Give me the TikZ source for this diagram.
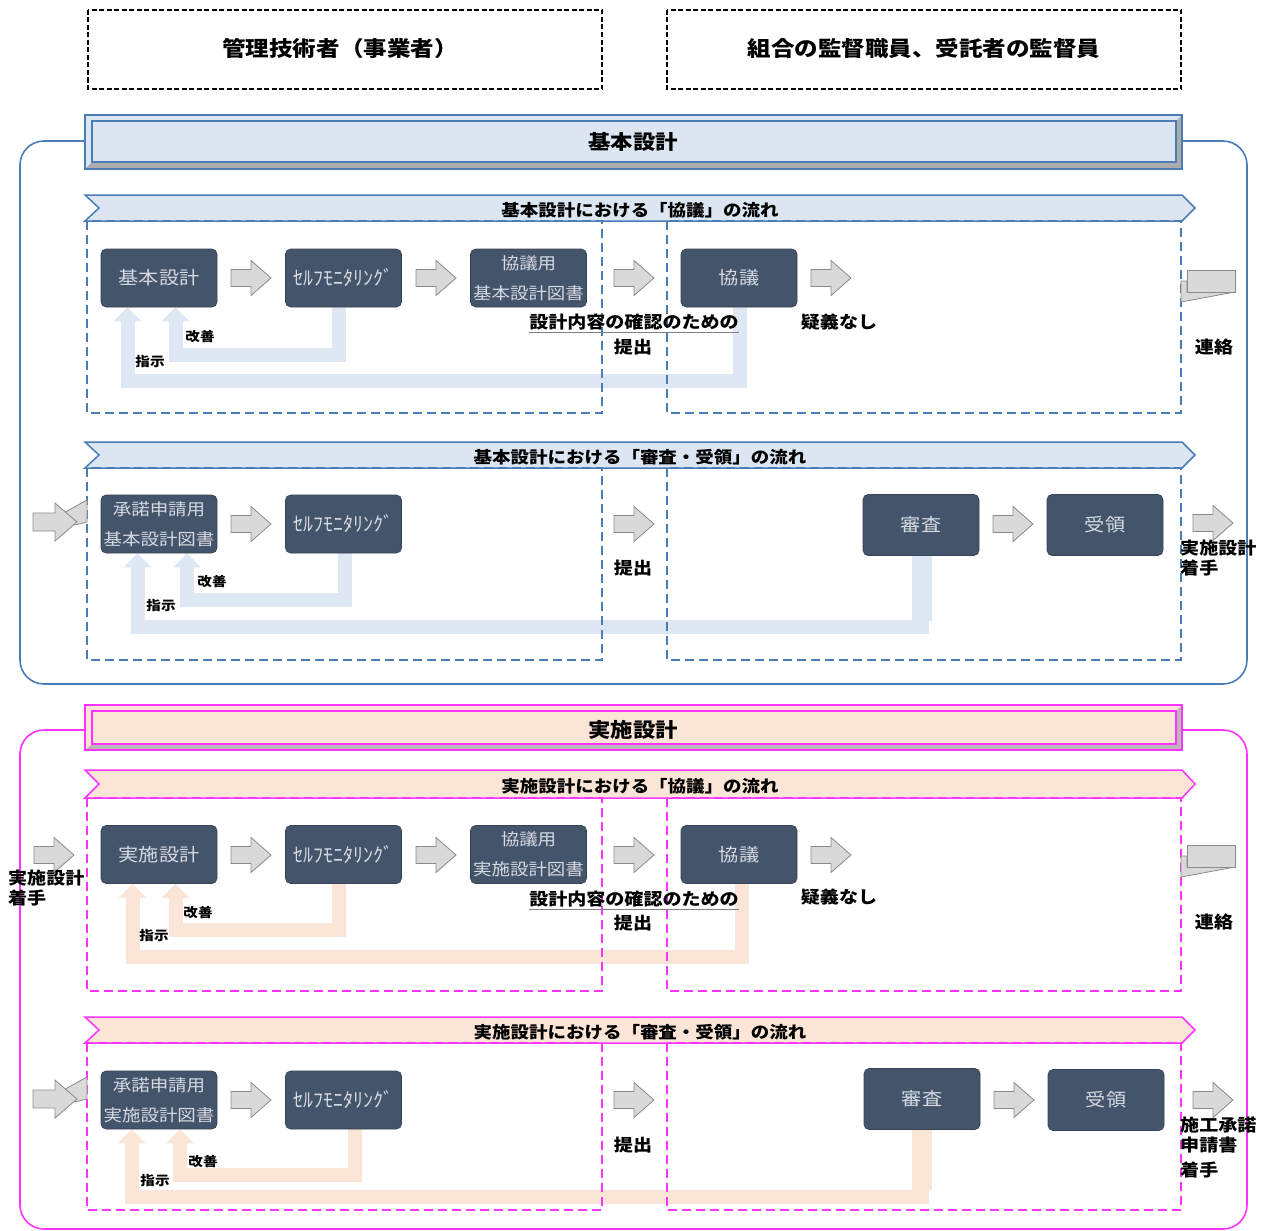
\documentclass[tikz,border=0pt]{standalone}
\usepackage{fontspec}
\setmainfont{Noto Sans CJK JP}
\newfontfamily\jpw[FakeStretch=1.12]{Noto Sans CJK JP}
\newfontfamily\jpn{Noto Sans CJK JP}
\usetikzlibrary{arrows.meta}
\pgfdeclarelayer{bg}
\pgfsetlayers{bg,main}
\definecolor{bl}{HTML}{4A7DB5}
\definecolor{blfill}{HTML}{DCE6F2}
\definecolor{blfb}{HTML}{DDE8F4}
\definecolor{mg}{HTML}{FF33FF}
\definecolor{pk}{HTML}{FBE5D6}
\definecolor{nd}{HTML}{44546A}
\definecolor{ndtxt}{HTML}{D5DAE2}
\definecolor{ar}{HTML}{D9D9D9}
\definecolor{arb}{HTML}{8A8A8A}
\begin{document}
\begin{tikzpicture}[x=1pt,y=-1pt,
  proc/.style={rounded corners=5pt, fill=nd, draw=nd!80!black, line width=0.6pt,
    minimum width=116pt, minimum height=58pt, inner sep=0pt, text=ndtxt,
    font=\jpw\fontsize{18}{30}\selectfont, align=center},
  twol/.style={font=\jpw\fontsize{16.5}{30}\selectfont},
  kana/.style={font=\jpn\fontsize{20}{30}\selectfont},
  lbl/.style={inner sep=0pt, font=\jpw\bfseries\fontsize{17}{20}\selectfont},
  slbl/.style={inner sep=0pt, font=\jpw\bfseries\fontsize{13}{15}\selectfont},
  bnr/.style={inner sep=0pt, font=\jpw\bfseries\fontsize{16.5}{20}\selectfont},
  hdr/.style={inner sep=0pt, font=\jpw\bfseries\fontsize{20}{24}\selectfont},
  thdr/.style={inner sep=0pt, font=\jpw\bfseries\fontsize{21}{24}\selectfont},
  topbox/.style={draw=black, line width=2.2pt, dash pattern=on 5pt off 2.5pt},
  dbl/.style={draw=bl, line width=1.6pt, dash pattern=on 9pt off 5pt},
  dmg/.style={draw=mg, line width=1.6pt, dash pattern=on 9pt off 5pt},
  fbB/.style={draw=blfb, line width=14pt, -{Triangle[width=27pt,length=14pt]}},
  fbP/.style={draw=pk, line width=14pt, -{Triangle[width=27pt,length=14pt]}},
  pics/blk/.style={code={\draw[draw=arb, fill=ar, line width=0.8pt]
    (-20,-8.5)--(0,-8.5)--(0,-17.5)--(20,0)--(0,17.5)--(0,8.5)--(-20,8.5)--cycle;}},
  pics/entry/.style={code={
    \draw[draw=arb, fill=ar, line width=0.8pt] (5,-7)--(32,-22)--(32,0)--(20,3)--cycle;
    \draw[draw=arb, fill=ar, line width=0.8pt]
    (-22,-9)--(0,-9)--(0,-19)--(22,0)--(0,19)--(0,9)--(-22,9)--cycle;}}
]
\useasboundingbox (0,0) rectangle (1266,1231);

% ---------- top boxes
\draw[topbox] (88,10) rectangle (602,89);
\draw[topbox] (667,10) rectangle (1181,89);
\node[thdr] (tl) at (340,48) {管理技術者（事業者）};
\node[thdr] (tr) at (924,48) {組合の監督職員、受託者の監督員};

% ================= SECTION 1 (blue)
\draw[bl, line width=1.6pt, rounded corners=24pt] (20,141) rectangle (1247,684);
\fill[blfill] (85,115) rectangle (1182,169);
\fill[gray!65] (85,169)--(1182,169)--(1182,115)--(1176,121)--(1176,162)--(92,162)--cycle;
\draw[bl, line width=1.6pt] (85,115) rectangle (1182,169);
\draw[bl, line width=1.2pt] (92,121) rectangle (1176,162);
\node[hdr] (h1) at (633,142) {基本設計};

% banner 1
\draw[bl, fill=blfill, line width=1.5pt] (85,195)--(1182,195)--(1195,208)--(1182,221)--(85,221)--(99,208)--cycle;
\node[bnr] (b1) at (640,210) {基本設計における「協議」の流れ};
\draw[dbl] (87,221) rectangle (602,413);
\draw[dbl] (667,221) rectangle (1181,413);

\node[proc] (p11) at (159,278) {基本設計};
\node[proc, kana] (p12) at (343.5,278) {ｾﾙﾌﾓﾆﾀﾘﾝｸﾞ};
\node[proc, twol] (p13) at (528.5,278) {協議用\\基本設計図書};
\node[proc] (p14) at (739,278) {協議};
\pic at (251,278) {blk};
\pic at (436,278) {blk};
\pic at (634,278) {blk};
\pic at (831,278) {blk};
\node[lbl] (l11) at (634,322) {設計内容の確認のための};
\draw[gray, line width=0.8pt] ([yshift=-2pt]l11.south west) -- ([yshift=-2pt]l11.south east);
\node[lbl] (l12) at (633,347) {提出};
\node[lbl] (l13) at (839,322) {疑義なし};
\node[lbl] (l14) at (1214,347) {連絡};
\draw[draw=arb, fill=ar, line width=0.8pt] (1181,281)--(1187,281)--(1187,292)--(1235,292)--(1181,302)--cycle;
\draw[draw=arb, fill=ar, line width=0.8pt] (1187,270) rectangle (1235,292);
\node[slbl] (l15) at (200,337) {改善};
\node[slbl] (l16) at (150,362) {指示};
\begin{pgfonlayer}{bg}
\draw[fbB] ([xshift=-5pt]p12.south) -- ++(0,47.5) -| ([xshift=16.5pt]p11.south);
\draw[fbB] ([xshift=0.5pt]p14.south) -- ++(0,73.5) -| ([xshift=-31.5pt]p11.south);
\end{pgfonlayer}

% banner 2
\draw[bl, fill=blfill, line width=1.5pt] (85,442)--(1182,442)--(1195,455)--(1182,468)--(85,468)--(99,455)--cycle;
\node[bnr] (b2) at (640,457) {基本設計における「審査・受領」の流れ};
\draw[dbl] (87,468) rectangle (602,660);
\draw[dbl] (667,468) rectangle (1181,660);

\node[proc, twol] (p21) at (159,524) {承諾申請用\\基本設計図書};
\node[proc, kana] (p22) at (343.5,524) {ｾﾙﾌﾓﾆﾀﾘﾝｸﾞ};
\node[proc, minimum height=61pt] (p23) at (921,525) {審査};
\node[proc, minimum height=61pt] (p24) at (1105,525) {受領};
\pic at (55,522) {entry};
\pic at (251,524) {blk};
\pic at (634,524) {blk};
\pic at (1013,524) {blk};
\pic at (1213,523) {blk};
\node[lbl] (l21) at (633,568) {提出};
\node[lbl, anchor=west] (l22) at (1180,548) {実施設計};
\node[lbl, anchor=west] (l23) at (1180,568) {着手};
\node[slbl] (l24) at (212,582) {改善};
\node[slbl] (l25) at (161,606) {指示};
\begin{pgfonlayer}{bg}
\draw[fbB] ([xshift=1.5pt]p22.south) -- ++(0,46.5) -| ([xshift=28pt]p21.south);
\draw[line width=20pt, blfb] ([xshift=1pt]p23.south) -- ++(0,65);
\draw[fbB] ([xshift=1pt]p23.south) -- ++(0,71.5) -| ([xshift=-21.5pt]p21.south);
\end{pgfonlayer}

% ================= SECTION 2 (magenta)
\draw[mg, line width=1.6pt, rounded corners=24pt] (20,730) rectangle (1247,1229);
\fill[pk] (85,705) rectangle (1182,750);
\fill[gray!55] (85,750)--(1182,750)--(1182,705)--(1176,711)--(1176,744)--(92,744)--cycle;
\draw[mg, line width=1.6pt] (85,705) rectangle (1182,750);
\draw[mg, line width=1.2pt] (92,711) rectangle (1176,744);
\node[hdr] (h2) at (633,730) {実施設計};

% banner 3
\draw[mg, fill=pk, line width=1.5pt] (85,770)--(1182,770)--(1195,784)--(1182,798)--(85,798)--(99,784)--cycle;
\node[bnr] (b3) at (640,786) {実施設計における「協議」の流れ};
\draw[dmg] (87,798) rectangle (602,991);
\draw[dmg] (667,798) rectangle (1181,991);

\node[proc] (q11) at (159,854.5) {実施設計};
\node[proc, kana] (q12) at (343.5,854.5) {ｾﾙﾌﾓﾆﾀﾘﾝｸﾞ};
\node[proc, twol] (q13) at (528.5,854.5) {協議用\\実施設計図書};
\node[proc] (q14) at (739,854.5) {協議};
\pic at (54,855) {blk};
\pic at (251,855) {blk};
\pic at (436,855) {blk};
\pic at (634,855) {blk};
\pic at (831,855) {blk};
\node[lbl, anchor=west] (m10) at (8,878) {実施設計};
\node[lbl, anchor=west] (m11) at (8,898) {着手};
\node[lbl] (m12) at (634,899) {設計内容の確認のための};
\draw[gray, line width=0.8pt] ([yshift=-2pt]m12.south west) -- ([yshift=-2pt]m12.south east);
\node[lbl] (m13) at (633,923) {提出};
\node[lbl] (m14) at (839,897) {疑義なし};
\node[lbl] (m15) at (1214,922) {連絡};
\draw[draw=arb, fill=ar, line width=0.8pt] (1181,856)--(1187,856)--(1187,867)--(1235,867)--(1181,877)--cycle;
\draw[draw=arb, fill=ar, line width=0.8pt] (1187,845) rectangle (1235,867);
\node[slbl] (m16) at (198,913) {改善};
\node[slbl] (m17) at (154,936) {指示};
\begin{pgfonlayer}{bg}
\draw[fbP] ([xshift=-5pt]q12.south) -- ++(0,46.5) -| ([xshift=16.5pt]q11.south);
\draw[fbP] ([xshift=3pt]q14.south) -- ++(0,73) -| ([xshift=-26.5pt]q11.south);
\end{pgfonlayer}

% banner 4
\draw[mg, fill=pk, line width=1.5pt] (85,1017)--(1182,1017)--(1195,1030)--(1182,1043)--(85,1043)--(99,1030)--cycle;
\node[bnr] (b4) at (640,1032) {実施設計における「審査・受領」の流れ};
\draw[dmg] (87,1043) rectangle (602,1210);
\draw[dmg] (667,1043) rectangle (1181,1210);

\node[proc, twol] (q21) at (159,1100) {承諾申請用\\実施設計図書};
\node[proc, kana] (q22) at (343.5,1100) {ｾﾙﾌﾓﾆﾀﾘﾝｸﾞ};
\node[proc, minimum height=61pt] (q23) at (922,1099) {審査};
\node[proc, minimum height=61pt] (q24) at (1106,1100) {受領};
\pic at (55,1099) {entry};
\pic at (251,1100) {blk};
\pic at (634,1100) {blk};
\pic at (1014,1100) {blk};
\pic at (1213,1100) {blk};
\node[lbl] (m21) at (633,1145) {提出};
\node[lbl, anchor=west] (m22) at (1180,1125) {施工承諾};
\node[lbl, anchor=west] (m23) at (1180,1145) {申請書};
\node[lbl, anchor=west] (m24) at (1180,1170) {着手};
\node[slbl] (m25) at (203,1162) {改善};
\node[slbl] (m26) at (155,1181) {指示};
\begin{pgfonlayer}{bg}
\draw[fbP] ([xshift=11.5pt]q22.south) -- ++(0,45.5) -| ([xshift=21pt]q21.south);
\draw[line width=20pt, pk] (q23.south) -- ++(0,60);
\draw[fbP] (q23.south) -- ++(0,67) -| ([xshift=-27.5pt]q21.south);
\end{pgfonlayer}
\end{tikzpicture}
\end{document}
